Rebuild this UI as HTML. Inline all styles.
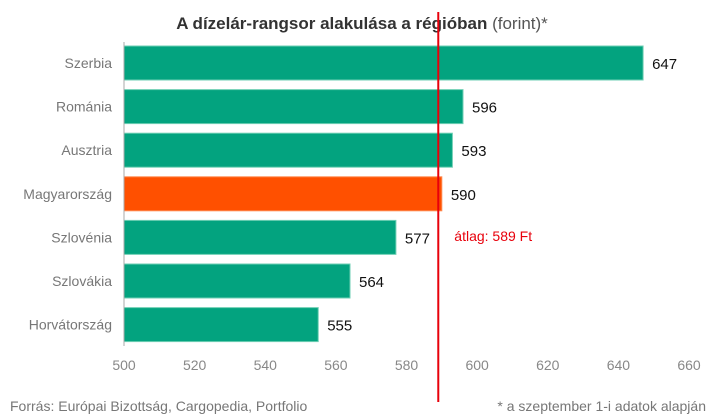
<!DOCTYPE html>
<html><head><meta charset="utf-8"><style>
body{margin:0;background:#fff;font-family:"Liberation Sans",sans-serif;}
svg{display:block}
</style></head><body>
<svg width="718" height="415">
<text x="362" y="29" text-anchor="middle" font-size="17" fill="#333"><tspan font-weight="bold">A dízelár-rangsor alakulása a régióban</tspan><tspan fill="#555"> (forint)*</tspan></text>
<g id="bars"></g>
<g id="ticks"></g>
<line x1="124" y1="42" x2="124" y2="346" stroke="#aaa" stroke-width="1"/>
<g id="avg"></g>
<text x="10" y="411" font-size="14" fill="#777">Forrás: Európai Bizottság, Cargopedia, Portfolio</text>
<text x="706" y="411" text-anchor="end" font-size="14" fill="#777">* a szeptember 1-i adatok alapján</text>
</svg>
<script>
const categories=["Szerbia","Románia","Ausztria","Magyarország","Szlovénia","Szlovákia","Horvátország"];
const values=[647,596,593,590,577,564,555];
const highlight=["Magyarország"];
const ticks=[500,520,540,560,580,600,620,640,660];
const average=589;
const NS="http://www.w3.org/2000/svg";
const x=v=>124+(v-500)*(689-124)/160;
const y=i=>46+i*43.6;
const bh=34;
function mk(t,a,p){const e=document.createElementNS(NS,t);for(const k in a)e.setAttribute(k,a[k]);p.appendChild(e);return e;}
const gb=document.getElementById('bars');
categories.forEach((c,i)=>{
  const r=mk('rect',{x:124,y:y(i),width:x(values[i])-124,height:bh,fill:highlight.includes(c)?'#ff5000':'#03a37f',stroke:highlight.includes(c)?'#ff8a50':'#6fcfb4','stroke-width':1},gb);
  
  
  const l=mk('text',{x:112,y:y(i)+bh/2+5,'text-anchor':'end','font-size':14,fill:'#777'},gb);
  l.textContent=c;
  
  
  const v=mk('text',{x:x(values[i])+9,y:y(i)+bh/2+6,'font-size':15,fill:'#111'},gb);
  v.textContent=values[i];
  
  
});
const gt=document.getElementById('ticks');
ticks.forEach(t=>{
  const e=mk('text',{x:x(t),y:370,'text-anchor':'middle','font-size':14,fill:'#888'},gt);
  e.textContent=t;
  
  
});
const ga=document.getElementById('avg');
const al=mk('line',{x1:x(average),y1:12,x2:x(average),y2:402,stroke:'#e8000b','stroke-width':2},ga);


const at=mk('text',{x:x(average)+16,y:241,'font-size':14,fill:'#e8000b'},ga);
at.textContent='átlag: '+average+' Ft';


</script>
</body></html>
